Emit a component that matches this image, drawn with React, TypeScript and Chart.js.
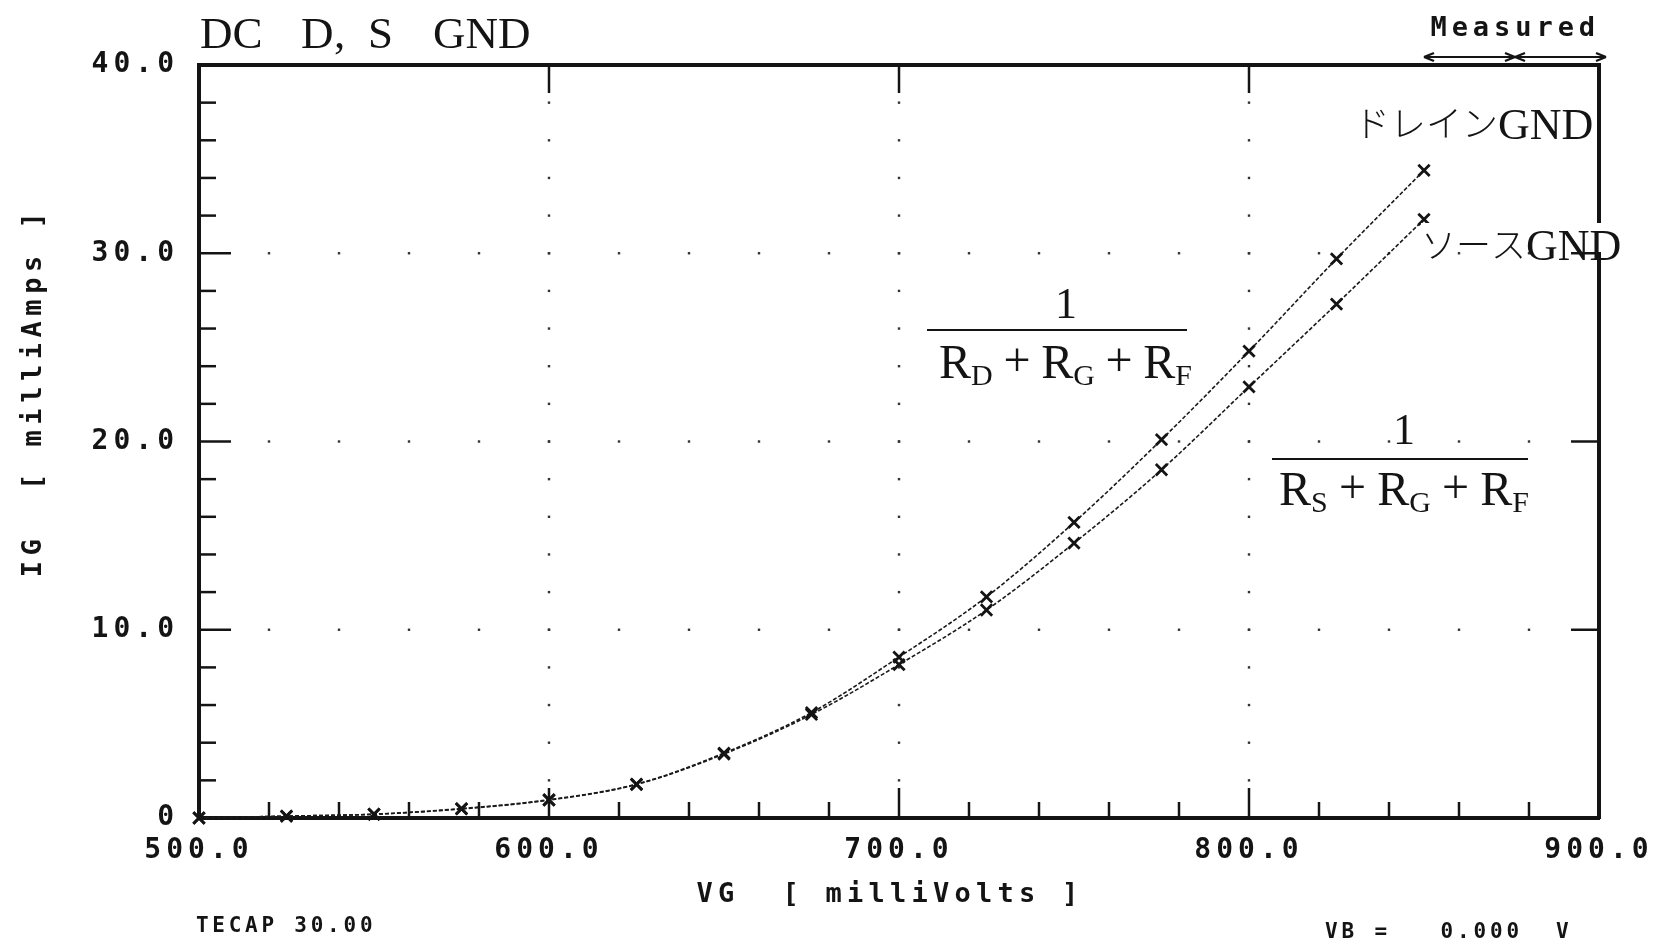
import React, { useEffect, useRef } from 'react';
import { Chart, registerables } from 'chart.js';

Chart.register(...registerables);

// ---- data ----
const vgMilliVolts = [500, 525, 550, 575, 600, 625, 650, 675, 700, 725, 750, 775, 800, 825, 850];
const igDrainGnd = [0, 0.1, 0.2, 0.5, 0.97, 1.8, 3.45, 5.6, 8.55, 11.75, 15.7, 20.1, 24.8, 29.7, 34.4];
const igSourceGnd = [0, 0.1, 0.2, 0.48, 0.95, 1.78, 3.4, 5.5, 8.15, 11.05, 14.6, 18.5, 22.9, 27.3, 31.8];

const xMajorTicks = [500, 600, 700, 800, 900];
const xTickLabels = ['500.0', '600.0', '700.0', '800.0', '900.0'];
const yMajorTicks = [0, 10, 20, 30, 40];
const yTickLabels = ['0', '10.0', '20.0', '30.0', '40.0'];
const xMinorStep = 20;
const yMinorStep = 2;
const measuredMarks = [850, 876, 902];

const INK = '#141414';
const PLOT_FONT = "'DejaVu Sans Mono', monospace";
const SERIF = "'Liberation Serif', 'DejaVu Serif', serif";
const KANA = "'Noto Sans CJK JP', sans-serif";

function plotText(ctx: CanvasRenderingContext2D, str: string, x0: number, y: number, pitch: number, size: number) {
  ctx.save();
  ctx.letterSpacing = '0px';
  ctx.font = `bold ${size}px ${PLOT_FONT}`;
  ctx.textAlign = 'center';
  ctx.textBaseline = 'middle';
  ctx.fillStyle = INK;
  for (let i = 0; i < str.length; i++) {
    const ch = str[i];
    if (ch !== ' ') ctx.fillText(ch, x0 + i * pitch + pitch / 2, y);
  }
  ctx.restore();
}

function line(ctx: CanvasRenderingContext2D, x1: number, y1: number, x2: number, y2: number) {
  ctx.beginPath();
  ctx.moveTo(x1, y1);
  ctx.lineTo(x2, y2);
  ctx.stroke();
}

function drawFraction(
  ctx: CanvasRenderingContext2D,
  sub: string[],
  numX: number,
  numBase: number,
  lineL: number,
  lineR: number,
  lineY: number,
  denL: number,
  denR: number,
  denBase: number
) {
  ctx.save();
  ctx.letterSpacing = '0px';
  ctx.fillStyle = INK;
  ctx.strokeStyle = INK;
  ctx.textBaseline = 'alphabetic';
  ctx.font = `44px ${SERIF}`;
  ctx.textAlign = 'center';
  ctx.fillText('1', numX, numBase);
  ctx.lineWidth = 2.2;
  line(ctx, lineL, lineY, lineR, lineY);
  ctx.textAlign = 'left';
  const big = `48px ${SERIF}`;
  const small = `30px ${SERIF}`;
  ctx.font = big;
  const wR = ctx.measureText('R').width;
  const wP = ctx.measureText('+').width;
  ctx.font = small;
  const wS = sub.map((s) => ctx.measureText(s).width);
  const natural = 3 * wR + wS.reduce((a, b) => a + b, 0) + 2 * wP;
  const gap = (denR - denL - natural) / 4;
  let x = denL;
  for (let i = 0; i < 3; i++) {
    ctx.font = big;
    ctx.fillText('R', x, denBase);
    x += wR;
    ctx.font = small;
    ctx.fillText(sub[i], x, denBase + 7);
    x += wS[i];
    if (i < 2) {
      x += gap;
      ctx.font = big;
      ctx.fillText('+', x, denBase - 2);
      x += wP + gap;
    }
  }
  ctx.restore();
}

function drawLabel(ctx: CanvasRenderingContext2D, kana: string, kanaSize: number, x: number, base: number, gndSize: number, clear: boolean) {
  ctx.save();
  ctx.letterSpacing = '0px';
  ctx.textAlign = 'left';
  ctx.textBaseline = 'alphabetic';
  ctx.font = `300 ${kanaSize}px ${KANA}`;
  const wk = ctx.measureText(kana).width;
  ctx.font = `${gndSize}px ${SERIF}`;
  const wg = ctx.measureText('GND').width;
  if (clear) {
    ctx.fillStyle = '#ffffff';
    ctx.fillRect(x, base - 37, wk + wg + 6, 29);
  }
  ctx.fillStyle = INK;
  ctx.font = `300 ${kanaSize}px ${KANA}`;
  ctx.fillText(kana, x, base - 2);
  ctx.font = `${gndSize}px ${SERIF}`;
  ctx.fillText('GND', x + wk, base);
  ctx.restore();
}

const decorPlugin = {
  id: 'plotterDecor',
  beforeDraw(chart: any) {
    const ctx = chart.ctx as CanvasRenderingContext2D;
    ctx.save();
    ctx.fillStyle = '#ffffff';
    ctx.fillRect(0, 0, chart.width, chart.height);
    ctx.restore();
    ctx.letterSpacing = '5px';
  },
  beforeDatasetsDraw(chart: any) {
    const ctx = chart.ctx as CanvasRenderingContext2D;
    const xs = chart.scales.x;
    const ys = chart.scales.y;
    const { top, bottom, left, right } = chart.chartArea;
    ctx.save();
    // dotted grid along major lines
    ctx.fillStyle = '#333';
    for (const mx of xMajorTicks) {
      if (mx === xs.min || mx === xs.max) continue;
      const px = xs.getPixelForValue(mx);
      for (let v = ys.min + yMinorStep; v < ys.max; v += yMinorStep) {
        const py = ys.getPixelForValue(v);
        ctx.fillRect(px - 1.2, py - 1.2, 2.4, 2.4);
      }
    }
    for (const my of yMajorTicks) {
      if (my === ys.min || my === ys.max) continue;
      const py = ys.getPixelForValue(my);
      for (let v = xs.min + xMinorStep; v < xs.max; v += xMinorStep) {
        const px = xs.getPixelForValue(v);
        ctx.fillRect(px - 1.2, py - 1.2, 2.4, 2.4);
      }
    }
    // inward tick marks
    ctx.strokeStyle = INK;
    ctx.lineWidth = 2.5;
    for (let v = xs.min + xMinorStep; v < xs.max; v += xMinorStep) {
      const px = xs.getPixelForValue(v);
      const major = xMajorTicks.includes(v);
      line(ctx, px, bottom, px, bottom - (major ? 30 : 16));
      if (major) line(ctx, px, top, px, top + 28);
    }
    for (let v = ys.min + yMinorStep; v < ys.max; v += yMinorStep) {
      const py = ys.getPixelForValue(v);
      const major = yMajorTicks.includes(v);
      line(ctx, left, py, left + (major ? 32 : 17), py);
      if (major) line(ctx, right, py, right - 28, py);
    }
    ctx.restore();
  },
  afterDraw(chart: any) {
    const ctx = chart.ctx as CanvasRenderingContext2D;
    const xs = chart.scales.x;
    ctx.save();
    ctx.letterSpacing = '0px';
    // title
    ctx.fillStyle = INK;
    ctx.font = `45px ${SERIF}`;
    ctx.textBaseline = 'alphabetic';
    ctx.textAlign = 'left';
    ctx.fillText('DC', 200, 48);
    ctx.fillText('D', 301, 48);
    ctx.fillText(',', 334, 48);
    ctx.fillText('S', 368, 48);
    ctx.fillText('GND', 433, 48);
    ctx.restore();

    // plotter texts
    plotText(ctx, 'Measured', 1428, 29, 21.2, 27);
    plotText(ctx, 'VG  [ milliVolts ]', 694, 895, 21.5, 27);
    plotText(ctx, 'TECAP 30.00', 194, 927, 16.4, 21);
    plotText(ctx, 'VB =   0.000  V', 1323, 933, 16.5, 21);
    ctx.save();
    ctx.translate(34, 580);
    ctx.rotate(-Math.PI / 2);
    plotText(ctx, 'IG  [ milliAmps ]', 0, 0, 21.8, 27);
    ctx.restore();

    // measured arrows
    ctx.save();
    ctx.strokeStyle = INK;
    ctx.lineWidth = 2.2;
    const ay = 57;
    const [a, b, c] = measuredMarks.map((v) => xs.getPixelForValue(v));
    line(ctx, a, ay, c, ay);
    const head = (x: number, dir: number) => {
      line(ctx, x, ay, x - dir * 10, ay - 4);
      line(ctx, x, ay, x - dir * 10, ay + 4);
    };
    head(a, -1);
    head(b, 1);
    head(b, -1);
    head(c, 1);
    ctx.restore();

    // curve labels
    drawLabel(ctx, 'ドレイン', 36, 1354, 139, 44, false);
    drawLabel(ctx, 'ソース', 35, 1421, 260, 44, true);

    // fractions
    drawFraction(ctx, ['D', 'G', 'F'], 1066, 318, 927, 1187, 330, 939, 1192, 378);
    drawFraction(ctx, ['S', 'G', 'F'], 1404, 444, 1272, 1528, 459, 1279, 1529, 505);
  },
};

export default function App() {
  const ref = useRef<HTMLCanvasElement>(null);
  useEffect(() => {
    const canvas = ref.current;
    if (!canvas) return;
    const tickFont = { family: PLOT_FONT, size: 28, weight: 'bold' as const };
    const seriesStyle = {
      showLine: true,
      borderColor: '#1a1a1a',
      borderWidth: 1.6,
      borderDash: [4, 2],
      pointStyle: 'crossRot' as const,
      pointRadius: 8,
      pointBorderWidth: 2.8,
      pointBorderColor: INK,
      pointBackgroundColor: INK,
      cubicInterpolationMode: 'monotone' as const,
      clip: 12,
    };
    const chart = new Chart(canvas, {
      type: 'scatter',
      data: {
        datasets: [
          {
            label: 'ドレインGND',
            data: vgMilliVolts.map((x, i) => ({ x, y: igDrainGnd[i] })),
            ...seriesStyle,
          },
          {
            label: 'ソースGND',
            data: vgMilliVolts.map((x, i) => ({ x, y: igSourceGnd[i] })),
            ...seriesStyle,
          },
        ],
      },
      options: {
        responsive: false,
        animation: false,
        devicePixelRatio: 1,
        layout: { padding: 0 },
        plugins: { legend: { display: false }, tooltip: { enabled: false }, title: { display: false } },
        scales: {
          x: {
            type: 'linear',
            position: 'bottom',
            min: 500,
            max: 900,
            grid: { display: false },
            border: { display: true, width: 4, color: INK },
            ticks: {
              stepSize: 100,
              autoSkip: false,
              maxRotation: 0,
              padding: 8,
              color: INK,
              font: tickFont,
              callback: (v: any) => {
                const i = xMajorTicks.indexOf(Number(v));
                return i >= 0 ? xTickLabels[i] : '';
              },
            },
            afterFit: (s: any) => {
              s.height = 127;
            },
          },
          xTop: {
            type: 'linear',
            position: 'top',
            min: 500,
            max: 900,
            grid: { display: false },
            border: { display: true, width: 4, color: INK },
            ticks: { display: false },
            afterFit: (s: any) => {
              s.height = 65;
            },
          },
          y: {
            type: 'linear',
            position: 'left',
            min: 0,
            max: 40,
            grid: { display: false },
            border: { display: true, width: 4, color: INK },
            ticks: {
              stepSize: 10,
              autoSkip: false,
              padding: 12,
              color: INK,
              font: tickFont,
              callback: (v: any) => {
                const i = yMajorTicks.indexOf(Number(v));
                return i >= 0 ? yTickLabels[i] : '';
              },
            },
            afterFit: (s: any) => {
              s.width = 199;
            },
          },
          yRight: {
            type: 'linear',
            position: 'right',
            min: 0,
            max: 40,
            grid: { display: false },
            border: { display: true, width: 4, color: INK },
            ticks: { display: false },
            afterFit: (s: any) => {
              s.width = 56;
            },
          },
        },
      },
      plugins: [decorPlugin],
    } as any);
    return () => chart.destroy();
  }, []);
  return (
    <div style={{ position: 'absolute', left: 0, top: 0, width: 1655, height: 945, background: '#fff' }}>
      <canvas ref={ref} width={1655} height={945} style={{ display: 'block' }} />
    </div>
  );
}
